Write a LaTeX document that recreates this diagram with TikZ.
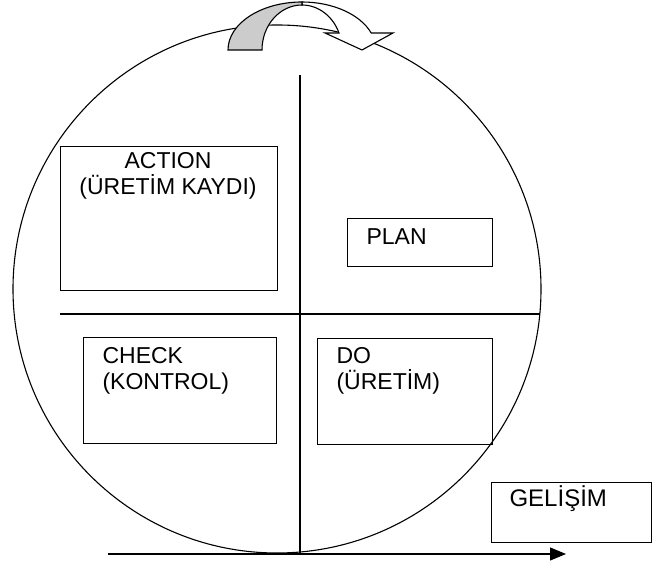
\documentclass[tikz,border=0pt]{standalone}
\usepackage{fontspec}
\setmainfont{Liberation Sans}
\usetikzlibrary{arrows.meta}

\begin{document}
\begin{tikzpicture}[x=1pt,y=1pt,line width=1.1pt,
    kutu/.style={draw,rectangle,inner sep=0pt,anchor=north west},
    yazi/.style={inner sep=0pt,align=left,font=\fontsize{23}{26}\selectfont},
    ok/.style={-{Triangle[length=16pt,width=13pt]}}]

  \useasboundingbox (0,0) rectangle (652,564);

  % cember ve eksenler
  \draw (277,275) circle (264);
  \coordinate (ust) at (300,489);
  \coordinate (alt) at (300,11);
  \coordinate (sol) at (60,250);
  \coordinate (sag) at (540,250);
  \draw (ust) -- (alt);
  \draw (sol) -- (sag);

  % ust kivrik ok
  \draw[fill=white] (302,562) arc[start angle=90,end angle=20.7,x radius=74,y radius=48]
        -- (393,531) -- (362,514) -- (325,531) -- (339,531)
        arc[start angle=22.2,end angle=90,x radius=40,y radius=45] -- cycle;
  \draw[fill=gray!40] (228,514) arc[start angle=180,end angle=90,x radius=74,y radius=48]
        -- (302,559) arc[start angle=90,end angle=180,x radius=40,y radius=45] -- cycle;

  % kutular
  \node[kutu,minimum width=217,minimum height=144] (action) at (60,418) {};
  \node[kutu,minimum width=145,minimum height=48] (plan) at (347,346) {};
  \node[kutu,minimum width=193,minimum height=106] (check) at (83,227) {};
  \node[kutu,minimum width=175,minimum height=106] (do) at (317,226) {};
  \node[kutu,minimum width=160,minimum height=60] (gelisim) at (491,82) {};

  % yazilar
  \node[yazi,align=center,anchor=north] (actiont) at (168,412) {ACTION\\(ÜRETİM KAYDI)};
  \node[yazi,anchor=base west] (plant) at (366,319) {PLAN};
  \node[yazi,anchor=north west] (checkt) at (102,217) {CHECK\\(KONTROL)};
  \node[yazi,anchor=north west] (dot) at (336,217) {DO\\(ÜRETİM)};
  \node[yazi,anchor=base west,font=\fontsize{24}{26}\selectfont] (gelisimt) at (509,57) {GELİŞİM};

  % gelisim oku
  \coordinate (bas) at (108,10);
  \coordinate (son) at (566,10);
  \draw[ok] (bas) -- (son);

\end{tikzpicture}
\end{document}
